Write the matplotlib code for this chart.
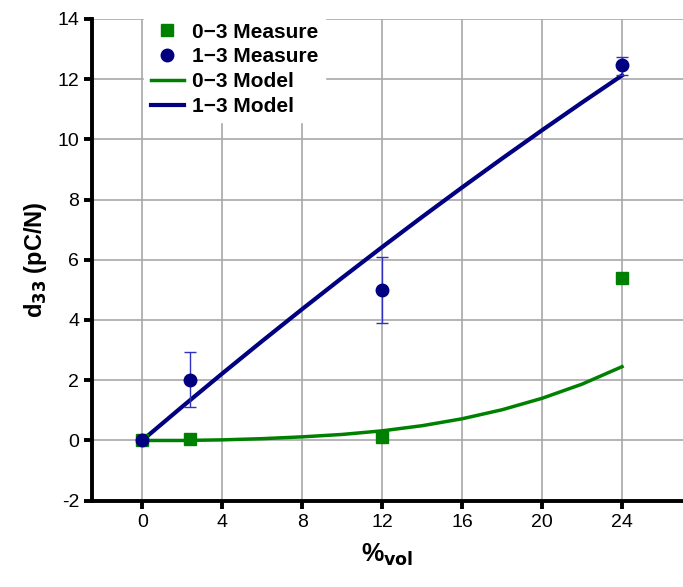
import numpy as np
import matplotlib
matplotlib.use("Agg")
import matplotlib.pyplot as plt

plt.rcParams['font.family'] = ['Liberation Sans', 'DejaVu Sans']
plt.rcParams['axes.unicode_minus'] = False

# measured points
x_meas = [0, 2.4, 12, 24]
y_13 = [0, 2.0, 5.0, 12.45]
err_13_lo = [0, 0.9, 1.1, 0.3]
err_13_hi = [0, 0.95, 1.1, 0.28]
y_03 = [0, 0.05, 0.1, 5.4]
err_03 = [0, 0.08, 0.1, 0.1]

# model curves
x_model = [0, 2, 4, 6, 8, 10, 12, 14, 16, 18, 20, 22, 24]
m_13 = [0, 1.12, 2.22, 3.3, 4.36, 5.4, 6.42, 7.42, 8.4, 9.36, 10.3, 11.22, 12.12]
m_03 = [0, 0.0, 0.02, 0.06, 0.12, 0.2, 0.32, 0.49, 0.72, 1.02, 1.4, 1.87, 2.45]

xticks = [0, 4, 8, 12, 16, 20, 24]
yticks = [-2, 0, 2, 4, 6, 8, 10, 12, 14]

navy = '#000080'
green = '#008000'

fig = plt.figure(figsize=(6.83, 5.87), dpi=100)
ax = fig.add_axes([0.135, 0.147, 0.865, 0.821])

ax.plot(x_model, m_03, color=green, lw=2.5, label='0\u22123 Model', zorder=3)
ax.plot(x_model, m_13, color=navy, lw=3, label='1\u22123 Model', zorder=3)

ax.errorbar(x_meas, y_03, yerr=err_03, fmt='none', ecolor=green, elinewidth=1,
            capsize=3, zorder=4)
ax.errorbar(x_meas, y_13, yerr=[err_13_lo, err_13_hi], fmt='none', ecolor='#3030c0',
            elinewidth=1, capsize=4, zorder=4)
ax.plot(x_meas, y_03, 's', color=green, ms=8, ls='none', label='0\u22123 Measure', zorder=5)
ax.plot(x_meas, y_13, 'o', color=navy, ms=9, ls='none', label='1\u22123 Measure', zorder=5)

ax.set_xlim(-2.5, 27.05)
ax.set_ylim(-2, 14)
ax.set_xticks(xticks)
ax.set_yticks(yticks)
ax.tick_params(direction='out', length=6, width=2.8, labelsize=14, colors='black')
ax.grid(True, color='#a8a8a8', lw=1.2)
for s in ['top', 'right']:
    ax.spines[s].set_visible(False)
for s in ['left', 'bottom']:
    ax.spines[s].set_linewidth(2.8)

ax.set_ylabel('d$_{\\mathbf{33}}$ (pC/N)', fontsize=17, fontweight='bold', labelpad=6)
ax.set_xlabel('%$_{\\mathbf{vol}}$', fontsize=18, fontweight='bold', labelpad=8)

h, l = ax.get_legend_handles_labels()
order = [2, 3, 0, 1]
leg = ax.legend([h[i] for i in order], [l[i] for i in order], loc='upper left',
                bbox_to_anchor=(0.196, 0.99), bbox_transform=fig.transFigure,
                frameon=True, framealpha=1, edgecolor='white', fancybox=False,
                prop={'weight': 'bold', 'size': 15}, handlelength=1.6,
                handletextpad=0.4, labelspacing=0.28, borderpad=0.3)

fig.savefig('out.png', dpi=100)
